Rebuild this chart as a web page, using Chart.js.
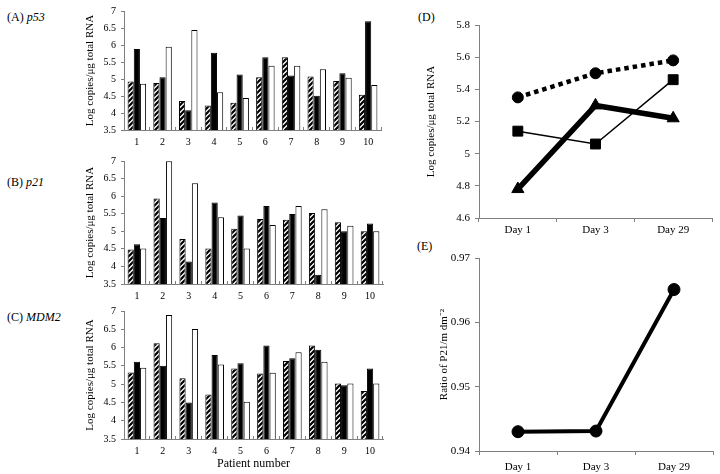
<!DOCTYPE html>
<html><head><meta charset="utf-8">
<script src="https://cdn.jsdelivr.net/npm/chart.js@4/dist/chart.umd.min.js"></script>
<style>
body{margin:0;background:#fff;width:720px;height:474px;position:relative;overflow:hidden;font-family:'Liberation Serif',serif;}
canvas{position:absolute;}
.lbl{position:absolute;font-size:12px;line-height:14px;color:#000;white-space:nowrap;}
</style></head><body>
<div class="lbl" style="left:7px;top:10px">(A) <i>p53</i></div>
<div class="lbl" style="left:7px;top:175px">(B) <i>p21</i></div>
<div class="lbl" style="left:7px;top:310px">(C) <i>MDM2</i></div>
<div class="lbl" style="left:418px;top:10px">(D)</div>
<div class="lbl" style="left:417px;top:239px">(E)</div>
<canvas id="cA" width="310" height="150" style="left:80px;top:0px"></canvas>
<canvas id="cB" width="310" height="155" style="left:80px;top:150px"></canvas>
<canvas id="cC" width="310" height="174" style="left:80px;top:300px"></canvas>
<canvas id="cD" width="299" height="240" style="left:421px;top:0px"></canvas>
<canvas id="cE" width="286" height="234" style="left:434px;top:240px"></canvas>
<script>
// ---- data ----
const patients = ['1','2','3','4','5','6','7','8','9','10'];
const p53Hatched = [4.93,4.88,4.35,4.22,4.30,5.05,5.64,5.07,4.94,4.54];
const p53Black   = [5.88,5.05,4.08,5.77,5.13,5.64,5.10,4.51,5.17,6.70];
const p53White   = [4.86,5.95,6.44,4.61,4.44,5.39,5.39,5.29,5.04,4.82];
const p21Hatched = [4.48,5.93,4.78,4.51,5.07,5.35,5.33,5.52,5.26,5.00];
const p21Black   = [4.63,5.38,4.14,5.82,5.45,5.72,5.49,3.76,5.00,5.22];
const p21White   = [4.51,6.99,6.37,5.40,4.51,5.18,5.72,5.63,5.16,5.00];
const mdm2Hatched = [5.32,6.12,5.16,4.72,5.43,5.29,5.63,6.06,5.02,4.81];
const mdm2Black   = [5.61,5.50,4.50,5.80,5.57,6.06,5.71,5.94,4.97,5.43];
const mdm2White   = [5.45,6.89,6.51,5.54,4.52,5.31,5.87,5.61,5.02,5.02];
const days = ['Day 1','Day 3','Day 29'];
const dCircle   = [5.35,5.50,5.58];
const dSquare   = [5.14,5.06,5.46];
const dTriangle = [4.78,5.30,5.22];
const eRatio    = [0.9430,0.9431,0.9651];
const barTicks = {min:3.5,max:7,step:0.5};
const dTicks = {min:4.6,max:5.8,step:0.2};
const eTicks = {min:0.94,max:0.97,step:0.01};

// ---- styling ----
const F = "'Liberation Serif', serif";
const AX = '#808080';
const fmt = v => String(parseFloat(Number(v).toFixed(3)));
function hatchPattern(){
  const s = 5, pc = document.createElement('canvas');
  pc.width = s; pc.height = s;
  const c = pc.getContext('2d');
  c.fillStyle = '#fff'; c.fillRect(0,0,s,s);
  c.strokeStyle = '#000'; c.lineWidth = 2.2;
  c.beginPath();
  c.moveTo(-1,s+1); c.lineTo(s+1,-1);
  c.moveTo(-1,1); c.lineTo(1,-1);
  c.moveTo(s-1,s+1); c.lineTo(s+1,s-1);
  c.stroke();
  return document.createElement('canvas').getContext('2d').createPattern(pc,'repeat');
}
const HATCH = hatchPattern();

function barChart(id, hatched, black, white, padTop, padRight, xHeight, showTitle){
  new Chart(document.getElementById(id), {
    type:'bar',
    data:{labels:patients, datasets:[
      {data:hatched, backgroundColor:HATCH, borderColor:'#000', borderWidth:1},
      {data:black, backgroundColor:'#000', borderColor:'#000', borderWidth:1},
      {data:white, backgroundColor:'#fff', borderColor:'#000', borderWidth:1}
    ]},
    options:{
      responsive:false, animation:false, devicePixelRatio:1,
      layout:{padding:{top:padTop,right:padRight,left:0,bottom:0}},
      plugins:{legend:{display:false}, tooltip:{enabled:false}},
      datasets:{bar:{categoryPercentage:0.72, barPercentage:1.0}},
      scales:{
        x:{
          grid:{drawOnChartArea:false, tickLength:-3, color:AX, offset:true},
          border:{color:AX},
          ticks:{color:'#000', font:{family:F,size:10}, padding:9, maxRotation:0},
          title:{display:showTitle, text:'Patient number', color:'#000', font:{family:F,size:12}, padding:{top:0,bottom:3}},
          afterFit(s){ s.height = xHeight; }
        },
        y:{
          min:barTicks.min, max:barTicks.max,
          ticks:{stepSize:barTicks.step, color:'#000', font:{family:F,size:10}, padding:5, callback:fmt},
          grid:{drawOnChartArea:false, tickLength:3, color:AX},
          border:{color:AX},
          title:{display:true, text:'Log copies/μg total RNA', color:'#000', font:{family:F,size:11}, padding:{top:4,bottom:0}},
          afterFit(s){ s.width = 44; }
        }
      }
    }
  });
}
barChart('cA', p53Hatched, p53Black, p53White, 6, 9, 20, false);
barChart('cB', p21Hatched, p21Black, p21White, 11, 7, 21, false);
barChart('cC', mdm2Hatched, mdm2Black, mdm2White, 11, 7, 35, true);

function lineScales(t, yTitle, yWidth, xHeight, xPad){
  return {
    x:{
      offset:true,
      grid:{drawOnChartArea:false, tickLength:4, color:AX, offset:true},
      border:{color:AX},
      ticks:{color:'#000', font:{family:F,size:11}, padding:xPad, maxRotation:0},
      afterFit(s){ s.height = xHeight; }
    },
    y:{
      min:t.min, max:t.max,
      ticks:{stepSize:t.step, color:'#000', font:{family:F,size:11}, padding:5, callback:fmt},
      grid:{drawOnChartArea:false, tickLength:4, color:AX},
      border:{color:AX},
      title:{display:true, text:yTitle, color:'#000', font:{family:F,size:11}, padding:{top:4,bottom:0}},
      afterFit(s){ s.width = yWidth; }
    }
  };
}

new Chart(document.getElementById('cD'), {
  type:'line',
  data:{labels:days, datasets:[
    {data:dCircle, borderColor:'#000', backgroundColor:'#000', borderWidth:4.5, borderDash:[4.5,4], pointStyle:'circle', pointRadius:5.5, pointBorderWidth:1},
    {data:dSquare, borderColor:'#000', backgroundColor:'#000', borderWidth:1.5, pointStyle:'rect', pointRadius:7, pointBorderWidth:1},
    {data:dTriangle, borderColor:'#000', backgroundColor:'#000', borderWidth:5.5, pointStyle:'triangle', pointRadius:7, pointBorderWidth:1}
  ]},
  options:{
    responsive:false, animation:false, devicePixelRatio:1,
    layout:{padding:{top:25,right:5,left:0,bottom:0}},
    plugins:{legend:{display:false}, tooltip:{enabled:false}},
    scales: lineScales(dTicks, 'Log copies/μg total RNA', 58, 22, 2)
  }
});

new Chart(document.getElementById('cE'), {
  type:'line',
  data:{labels:days, datasets:[
    {data:eRatio, borderColor:'#000', backgroundColor:'#000', borderWidth:4, pointStyle:'circle', pointRadius:6, pointBorderWidth:1}
  ]},
  options:{
    responsive:false, animation:false, devicePixelRatio:1,
    layout:{padding:{top:18,right:6,left:0,bottom:0}},
    plugins:{legend:{display:false}, tooltip:{enabled:false}},
    scales: lineScales(eTicks, 'Ratio of P21/m dm⁻²', 45, 23, 6)
  }
});
</script>
</body></html>
